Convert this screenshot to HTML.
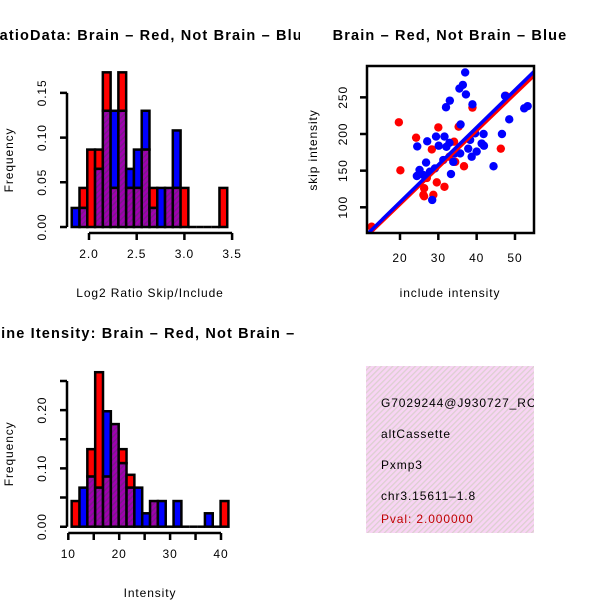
<!DOCTYPE html>
<html><head><meta charset="utf-8"><style>
body{margin:0;background:#fff}
svg{display:block;font-family:"Liberation Sans",sans-serif}
text{letter-spacing:0.9px}
.ttl{letter-spacing:1.15px}
</style></head><body>
<svg id="root" width="600" height="600" viewBox="0 0 600 600">
<defs>
<pattern id="pp" width="4" height="4" patternUnits="userSpaceOnUse" patternTransform="rotate(45)"><rect width="4" height="4" fill="#a000b0"/><rect width="1.5" height="4" fill="#7a1a8a"/></pattern>
<pattern id="pk" width="4" height="4" patternUnits="userSpaceOnUse" patternTransform="rotate(45)"><rect width="4" height="4" fill="#f8d4f4"/><rect width="1.3" height="4" fill="#dcd0d0"/></pattern>
<clipPath id="cl"><rect x="0" y="0" width="300" height="600"/></clipPath>
<clipPath id="cbox"><rect x="367" y="66" width="167" height="167"/></clipPath>
</defs>
<g clip-path="url(#cl)">
<text class="ttl" x="150" y="40" text-anchor="middle" font-size="14.5" font-weight="bold">RatioData: Brain – Red, Not Brain – Blue</text>
<text class="ttl" x="150" y="338" text-anchor="middle" font-size="14.5" font-weight="bold">Routine Itensity: Brain – Red, Not Brain – Blue</text>
</g>
<text class="ttl" x="450" y="40" text-anchor="middle" font-size="14.5" font-weight="bold">Brain – Red, Not Brain – Blue</text>
<g id="h1"></g>
<g id="h2"></g>
<g id="sc"></g>
<g>
<rect x="366" y="366" width="168" height="167" fill="url(#pk)"/>
<svg x="366" y="366" width="168" height="167" overflow="hidden">
<text x="15" y="41" font-size="12">G7029244@J930727_RC</text>
<text x="15" y="72" font-size="12">altCassette</text>
<text x="15" y="103" font-size="12">Pxmp3</text>
<text x="15" y="134" font-size="12">chr3.15611–1.8</text>
<text x="15" y="157" font-size="12" fill="#c00000">Pval: 2.000000</text>
</svg>
</g>
</svg>
<script>
// Ratio histogram data
const ratioStart = 1.819, ratioBin = 0.0815;
const ratioRed  = [0,0.0437,0.0866,0.0866,0.173,0.0437,0.173,0.0437,0.0437,0.0866,0.0437,0,0.0437,0.0437,0.0437,0,0,0,0,0.0437];
const ratioBlue = [0.0213,0.0213,0,0.065,0.13,0.13,0.13,0.065,0.0866,0.13,0.0213,0.0437,0.0437,0.108,0,0,0,0,0,0];
const ratioXTicks = [2.0,2.5,3.0,3.5];
const ratioYTicks = [0,0.05,0.10,0.15];
// Intensity histogram data
const intStart = 10.66, intBin = 1.54;
const intRed  = [0.044,0,0.133,0.265,0.086,0.176,0.133,0.089,0,0,0.044,0,0,0,0,0,0,0,0,0.044];
const intBlue = [0,0.067,0.086,0.067,0.198,0.176,0.109,0.067,0.067,0.023,0.044,0.044,0,0.044,0,0,0,0.023,0,0];
const intXTicks = [10,15,20,25,30,35,40];
const intXLabels = ["10","","20","","30","","40"];
const intYTicks = [0,0.05,0.10,0.15,0.20,0.25];
const intYLabels = ["0.00","","0.10","","0.20",""];
// Scatter data
const redX = [12.6,19.7,20.1,24.2,28.3,30.0,34.1,35.3,38.9,26.3,26.1,26.3,28.7,29.6,31.6,32.9,34.4,36.7,46.3,47.6,27.0];
const redY = [73.5,216,150.5,195,179,209,189.5,210,236,126,117,115,117,134,128,169,162,156,180,252,140];
const blueX = [37.0,35.5,36.4,37.2,33.0,32.0,38.9,35.8,27.1,29.4,30.1,31.6,32.9,24.5,26.8,25.1,24.4,26.1,29.1,27.8,31.3,33.3,33.9,35.7,37.8,38.7,40.0,39.6,41.8,41.3,41.9,44.4,46.6,48.5,47.4,52.4,53.3,28.4,32.1,34.3,38.3];
const blueY = [284,262,267,254,245.5,236.5,240.5,213,190,196.5,184,196.5,188,183,161,151,142.7,144,153,148.5,164.5,145.4,162,173.5,180,169,176,201,200,187,184,156,200,220,252,235,238,110,182.5,173.5,192];
const redFit = [3.86,5.02];   // intercept, slope
const blueFit = [4.95,5.1];
const scXTicks = [20,30,40,50];
const scYTicks = [100,150,200,250];

const NS="http://www.w3.org/2000/svg";
function mk(parent,tag,attrs,text){const e=document.createElementNS(NS,tag);for(const k in attrs)e.setAttribute(k,attrs[k]);if(text!==undefined)e.textContent=text;parent.appendChild(e);return e;}

function hist(g,start,bin,red,blue,sx,sy,xt,xl,yt,yl,xAxisY,yAxisX,xlabel,xlabY){
  for(let i=0;i<red.length;i++){
    const x0=sx(start+i*bin), x1=sx(start+(i+1)*bin);
    const r=red[i], b=blue[i], lo=Math.min(r,b), hi=Math.max(r,b);
    if(hi>lo){
      const c=mk(g,'rect',{x:x0,y:sy(hi),width:x1-x0,height:sy(lo)-sy(hi),fill:r>b?'#ff0000':'#0000ff',stroke:'#000','stroke-width':2.5});
      
      
    }
    if(lo>0){
      const p=mk(g,'rect',{x:x0,y:sy(lo),width:x1-x0,height:sy(0)-sy(lo),fill:'url(#pp)',stroke:'#000','stroke-width':2.5});
      
      
    }
    if(hi===0){
      const z=mk(g,'line',{x1:x0,x2:x1,y1:sy(0),y2:sy(0),stroke:'#000','stroke-width':2.5});
      
      
    }
  }
  const xa=mk(g,'path',{d:`M${sx(xt[0])},${xAxisY}H${sx(xt[xt.length-1])}`+xt.map(t=>`M${sx(t)},${xAxisY}V${xAxisY+7}`).join(''),stroke:'#000','stroke-width':2.5,fill:'none'});
  
  
  xt.forEach((t,i)=>{if(xl[i]){const l=mk(g,'text',{x:sx(t),y:xAxisY+25,'text-anchor':'middle','font-size':12},xl[i]);
    
    }});
  const ya=mk(g,'path',{d:`M${yAxisX},${sy(yt[0])}V${sy(yt[yt.length-1])}`+yt.map(t=>`M${yAxisX},${sy(t)}H${yAxisX-7}`).join(''),stroke:'#000','stroke-width':2.5,fill:'none'});
  
  
  yt.forEach((t,i)=>{if(yl[i]){const y=sy(t);const l=mk(g,'text',{x:0,y:0,transform:`translate(${yAxisX-21},${y}) rotate(-90)`,'text-anchor':'middle','font-size':12},yl[i]);
    
    }});
  const midY=(sy(yt[0])+sy(yt[yt.length-1]))/2;
  const yt2=mk(g,'text',{transform:`translate(13,${midY}) rotate(-90)`,'text-anchor':'middle','font-size':12},'Frequency');
  
  
  const xt2=mk(g,'text',{x:150,y:xlabY,'text-anchor':'middle','font-size':12},xlabel);
  
  
}

// Histogram 1
{
  const sx=v=>89+(v-2.0)*95.4, sy=v=>227-v*894;
  hist(document.getElementById('h1'),ratioStart,ratioBin,ratioRed,ratioBlue,sx,sy,ratioXTicks,["2.0","2.5","3.0","3.5"],ratioYTicks,["0.00","0.05","0.10","0.15"],233,67,'Log2 Ratio Skip/Include',297);
}
// Histogram 2
{
  const sx=v=>68.3+(v-10)*5.09, sy=v=>526.7-v*583;
  hist(document.getElementById('h2'),intStart,intBin,intRed,intBlue,sx,sy,intXTicks,intXLabels,intYTicks,intYLabels,533,67,'Intensity',597);
}
// Scatter
{
  const g=document.getElementById('sc');
  const sx=v=>400+(v-20)*3.833, sy=v=>207.3-(v-100)*0.733;
  const pts=mk(g,'g',{'clip-path':'url(#cbox)'});
  redX.forEach((x,i)=>{const c=mk(pts,'circle',{cx:sx(x),cy:sy(redY[i]),r:4.2,fill:'#ff0000'});
    
    });
  blueX.forEach((x,i)=>{const c=mk(pts,'circle',{cx:sx(x),cy:sy(blueY[i]),r:4.2,fill:'#0000ff'});
    
    });
  [[redFit,'#ff0000','fit-line-red'],[blueFit,'#0000ff','fit-line-blue']].forEach(([f,col,nm])=>{
    const l=mk(pts,'line',{x1:sx(5),y1:sy(f[0]+f[1]*5),x2:sx(60),y2:sy(f[0]+f[1]*60),stroke:col,'stroke-width':3.5});
    
    
  });
  const box=mk(g,'rect',{x:367,y:66,width:167,height:167,fill:'none',stroke:'#000','stroke-width':2.5});
  
  
  scXTicks.forEach(t=>{const tk=mk(g,'line',{x1:sx(t),x2:sx(t),y1:233,y2:240,stroke:'#000','stroke-width':2.5});
    
    
    const l=mk(g,'text',{x:sx(t),y:262,'text-anchor':'middle','font-size':12},String(t));
    
    });
  scYTicks.forEach(t=>{const tk=mk(g,'line',{x1:360,x2:367,y1:sy(t),y2:sy(t),stroke:'#000','stroke-width':2.5});
    
    
    const l=mk(g,'text',{transform:`translate(347,${sy(t)}) rotate(-90)`,'text-anchor':'middle','font-size':12},String(t));
    
    });
  const xt=mk(g,'text',{x:450,y:297,'text-anchor':'middle','font-size':12},'include intensity');
  
  
  const yt=mk(g,'text',{transform:'translate(317,150) rotate(-90)','text-anchor':'middle','font-size':12},'skip intensity');
  
  
}
</script>
</body></html>
